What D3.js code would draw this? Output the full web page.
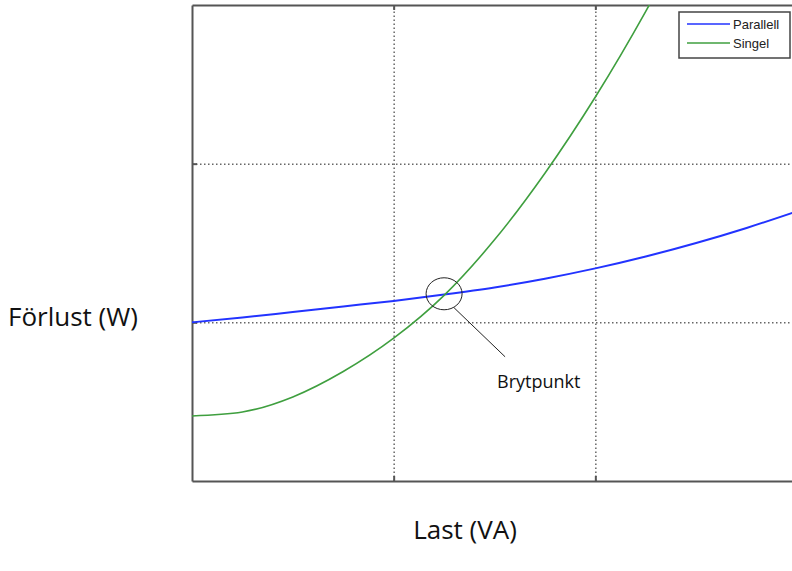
<!DOCTYPE html>
<html>
<head>
<meta charset="utf-8">
<script src="https://cdn.jsdelivr.net/npm/d3@7"></script>
<style>
  body { margin: 0; background: #fff; }
  svg { display: block; }
  .grid line { stroke: #666; stroke-width: 1.5; stroke-dasharray: 1.5, 2.5; }
  .frame path, .frame line { stroke: #555; }
  .title { font-family: "Open Sans", sans-serif; fill: #111; }
  .legend text { font-family: "Liberation Sans Narrow", "Liberation Sans", Arial, sans-serif; font-size: 13px; fill: #222; }
</style>
</head>
<body>
<svg id="chart"></svg>
<script>
// load (grid units) and the two loss curves
const lastVA = [0, 0.25, 0.5, 0.75, 1, 1.25, 1.5, 1.75, 2, 2.25, 2.5, 2.75, 3];
const parallell = [1.0, 1.03, 1.065, 1.1, 1.135, 1.175, 1.22, 1.275, 1.34, 1.415, 1.5, 1.595, 1.7];
const singel = [0.41, 0.435, 0.53, 0.69, 0.9, 1.17, 1.52, 1.94, 2.42, 2.96, 3.56, 4.2, 4.9];
const seriesNames = ["Parallell", "Singel"];
const seriesColors = ["#2233ff", "#3f9f3f"];
const gridX = [1, 2];
const gridY = [1, 2];
const breakpoint = { x: 1.25, y: 1.18, label: "Brytpunkt" };

class LossChart {
  constructor(_config) {
    this.config = {
      parentElement: _config.parentElement,
      containerWidth: _config.containerWidth || 792,
      containerHeight: _config.containerHeight || 571,
      margin: _config.margin || { top: 5, left: 192 },
      width: 605,
      height: 476,
    };
    this.initVis();
  }

  initVis() {
    const vis = this;

    vis.svg = d3
      .select(vis.config.parentElement)
      .attr("width", vis.config.containerWidth)
      .attr("height", vis.config.containerHeight);

    vis.chart = vis.svg
      .append("g")
      .attr("transform", `translate(${vis.config.margin.left},${vis.config.margin.top})`);

    vis.xScale = d3.scaleLinear().domain([0, 3]).range([0, vis.config.width]);
    vis.yScale = d3.scaleLinear().domain([0, 3]).range([vis.config.height, 0]);

    vis.svg
      .append("defs")
      .append("clipPath")
      .attr("id", "plot-clip")
      .append("rect")
      .attr("width", vis.config.width)
      .attr("height", vis.config.height);

    vis.renderVis();
  }

  renderVis() {
    const vis = this;
    const w = vis.config.width;
    const h = vis.config.height;

    // dotted grid
    vis.chart
      .append("g")
      .attr("class", "grid")
      .attr("transform", `translate(0,${h})`)
      .call(d3.axisBottom(vis.xScale).tickValues(gridX).tickSize(-h).tickFormat(""))
      .call((g) => g.select(".domain").remove());
    vis.chart
      .append("g")
      .attr("class", "grid")
      .call(d3.axisLeft(vis.yScale).tickValues(gridY).tickSize(-w).tickFormat(""))
      .call((g) => g.select(".domain").remove());

    // box with short inward ticks, no labels
    const frame = (axis, tx, ty) =>
      vis.chart
        .append("g")
        .attr("class", "frame")
        .attr("transform", `translate(${tx},${ty})`)
        .call(axis.tickSize(-5).tickSizeOuter(0).tickFormat(""))
        .call((g) => g.selectAll("path, line").attr("stroke-width", 2));
    frame(d3.axisBottom(vis.xScale).tickValues(gridX), 0, h);
    frame(d3.axisTop(vis.xScale).tickValues(gridX), 0, 0);
    frame(d3.axisLeft(vis.yScale).tickValues(gridY), 0, 0);
    frame(d3.axisRight(vis.yScale).tickValues(gridY), w, 0);

    // curves
    const line = d3
      .line()
      .curve(d3.curveMonotoneX)
      .x((d) => vis.xScale(d[0]))
      .y((d) => vis.yScale(d[1]));
    [parallell, singel].forEach((s, i) => {
      vis.chart
        .append("path")
        .datum(lastVA.map((x, j) => [x, s[j]]))
        .attr("clip-path", "url(#plot-clip)")
        .attr("fill", "none")
        .attr("stroke", seriesColors[i])
        .attr("stroke-width", i == 0 ? 2 : 1.6)
        .attr("d", line);
    });

    // break point annotation
    const bx = vis.xScale(breakpoint.x);
    const by = vis.yScale(breakpoint.y);
    vis.chart
      .append("ellipse")
      .attr("cx", bx)
      .attr("cy", by)
      .attr("rx", 18)
      .attr("ry", 16)
      .attr("fill", "none")
      .attr("stroke", "#222")
      .attr("stroke-width", 1);
    vis.chart
      .append("line")
      .attr("x1", bx + 10)
      .attr("y1", by + 14)
      .attr("x2", bx + 61)
      .attr("y2", by + 63)
      .attr("stroke", "#222")
      .attr("stroke-width", 1);
    vis.chart
      .append("text")
      .attr("class", "title")
      .attr("x", bx + 53)
      .attr("y", by + 94)
      .style("font-size", "18px")
      .text(breakpoint.label);

    // legend
    const legend = vis.chart
      .append("g")
      .attr("class", "legend")
      .attr("transform", `translate(${w - 118},7)`);
    legend
      .append("rect")
      .attr("width", 111)
      .attr("height", 46)
      .attr("fill", "#fff")
      .attr("stroke", "#444")
      .attr("stroke-width", 1.5);
    seriesNames.forEach((name, i) => {
      const y = 12 + i * 19;
      legend
        .append("line")
        .attr("x1", 8)
        .attr("x2", 51)
        .attr("y1", y)
        .attr("y2", y)
        .attr("stroke", seriesColors[i])
        .attr("stroke-width", 1.5);
      legend
        .append("text")
        .attr("x", 54)
        .attr("y", y + 5)
        .text(name);
    });

    // axis titles
    vis.svg
      .append("text")
      .attr("class", "title")
      .attr("x", 8)
      .attr("y", 326)
      .style("font-size", "26px")
      .text("Förlust (W)");
    vis.svg
      .append("text")
      .attr("class", "title")
      .attr("x", 465)
      .attr("y", 539)
      .attr("text-anchor", "middle")
      .style("font-size", "26px")
      .text("Last (VA)");
  }
}

new LossChart({ parentElement: "#chart" });
</script>
</body>
</html>
